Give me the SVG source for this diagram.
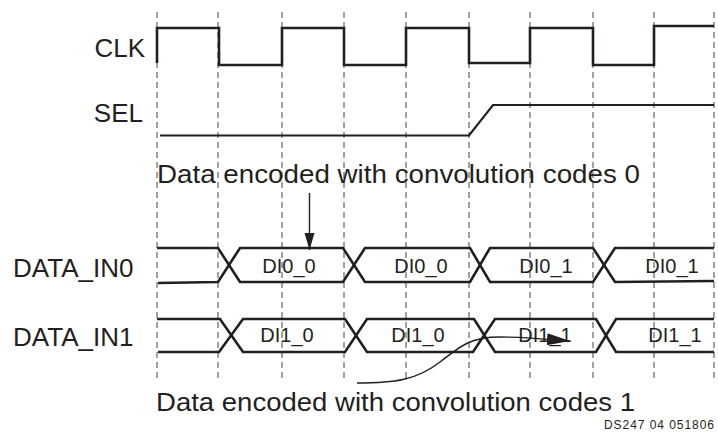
<svg xmlns="http://www.w3.org/2000/svg" width="718" height="434" viewBox="0 0 718 434">
<style>
.grid{stroke:#444;stroke-width:1;stroke-dasharray:6 4;fill:none}
.wave{stroke:#231f20;stroke-width:2.6;fill:none;stroke-linejoin:miter}
.lbl{font-family:"Liberation Sans",Arial,sans-serif;font-size:26px;fill:#231f20}
.val{font-family:"Liberation Sans",Arial,sans-serif;font-size:20px;fill:#231f20;text-anchor:middle}
.note{font-family:"Liberation Sans",Arial,sans-serif;font-size:26px;fill:#231f20}
.conn{stroke:#231f20;stroke-width:1.4;fill:none}
</style>
<defs>
<marker id="ah1" markerUnits="userSpaceOnUse" markerWidth="18" markerHeight="12" refX="17" refY="5" orient="auto">
<path d="M0,0 L17,5 L0,10 z" fill="#231f20"/>
</marker>
<marker id="ah2" markerUnits="userSpaceOnUse" markerWidth="24" markerHeight="14" refX="23" refY="6" orient="auto">
<path d="M0,0 L23,6 L0,12 z" fill="#231f20"/>
</marker>
</defs>
<rect width="718" height="434" fill="#fff"/>
<g id="gridlines">
<line class="grid" x1="157" y1="12" x2="157" y2="382"/>
<line class="grid" x1="218" y1="12" x2="218" y2="382"/>
<line class="grid" x1="282" y1="12" x2="282" y2="382"/>
<line class="grid" x1="344" y1="12" x2="344" y2="382"/>
<line class="grid" x1="406" y1="12" x2="406" y2="382"/>
<line class="grid" x1="469" y1="12" x2="469" y2="382"/>
<line class="grid" x1="530" y1="12" x2="530" y2="382"/>
<line class="grid" x1="593" y1="12" x2="593" y2="382"/>
<line class="grid" x1="654" y1="12" x2="654" y2="382"/>
<line class="grid" x1="714" y1="12" x2="714" y2="382"/>
</g>
<g id="clk">
<text class="lbl" x="145" y="57" text-anchor="end">CLK</text>
<path class="wave" d="M157,63 V28 H219 V65 H282 V28 H344 V65 H406 V28 H469 V63 H530 V28 H593 V65 H654 V26 H714"/>
</g>
<g id="sel">
<text class="lbl" x="143" y="122" text-anchor="end">SEL</text>
<path class="wave" style="stroke-width:2.2" d="M160,135.5 H469 L493,105 H714"/>
</g>
<g id="data_in0">
<text class="lbl" x="13" y="277">DATA_IN0</text>
<path class="wave" d="M157,248 H218 L240,282 H343 L365,248 H470 L490,282 H593 L615,248 H714"/>
<path class="wave" d="M158,283 L218,282 L240,248 H343 L365,282 H470 L490,248 H593 L615,282 L714,281"/>
<text class="val" x="289" y="273">DI0_0</text>
<text class="val" x="421" y="273">DI0_0</text>
<text class="val" x="546" y="273">DI0_1</text>
<text class="val" x="672" y="273">DI0_1</text>
</g>
<g id="data_in1">
<text class="lbl" x="13" y="346">DATA_IN1</text>
<path class="wave" d="M157,319 H220 L243,352 H345 L367,319 H474 L495,352 H596 L616,319 H714"/>
<path class="wave" d="M158,352 H219 L243,319 H345 L367,352 H473 L495,319 H596 L616,352 H714"/>
<text class="val" x="287" y="342">DI1_0</text>
<text class="val" x="418" y="342">DI1_0</text>
<text class="val" x="545" y="342">DI1_1</text>
<text class="val" x="675" y="342">DI1_1</text>
</g>
<g id="note0">
<text class="note" x="157" y="183" textLength="483" lengthAdjust="spacingAndGlyphs">Data encoded with convolution codes 0</text>
</g>
<g id="note1">
<text class="note" x="156" y="411" textLength="479" lengthAdjust="spacingAndGlyphs">Data encoded with convolution codes 1</text>
</g>
<g id="connectors">
<line class="conn" x1="309.5" y1="193" x2="309.5" y2="250" marker-end="url(#ah1)"/>
<path class="conn" d="M357,383 C395,383 417,380 440,362 C463,344 472,337 500,337 C525,337 545,339 570,341" marker-end="url(#ah2)"/>
</g>
<text x="604" y="429" font-family="Liberation Sans, Arial, sans-serif" font-size="12" fill="#231f20" textLength="110" lengthAdjust="spacing">DS247 04 051806</text>
</svg>
